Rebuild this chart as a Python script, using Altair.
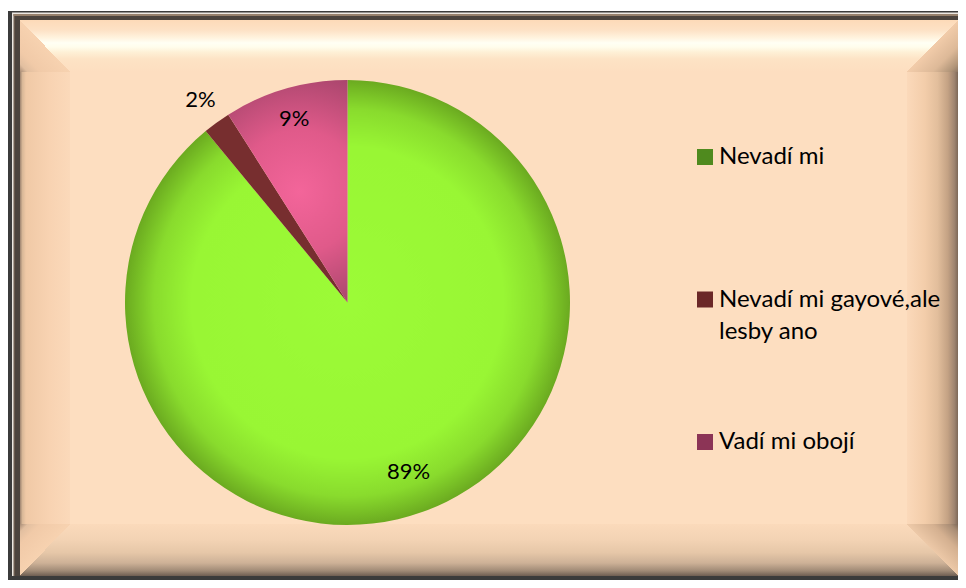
import altair as alt
import pandas as pd

# ---- data ----
categories = ["Nevadí mi", "Nevadí mi gayové,ale lesby ano", "Vadí mi obojí"]
values = [89, 2, 9]
pct_labels = ["89%", "2%", "9%"]
legend_lines = ["Nevadí mi", "Nevadí mi gayové,ale\nlesby ano", "Vadí mi obojí"]
order_idx = [0, 1, 2]
legend_colors = ["#4F8A1E", "#6B2828", "#8C3456"]

df = pd.DataFrame({"cat": categories, "value": values, "label": pct_labels,
                   "line": legend_lines, "idx": order_idx})
one = pd.DataFrame({"k": [0]})

W, H = 950, 572
CX, CY, R = 339.5, 294.5, 222.5
FONT = "Lato"
FACE = "#FDDEC0"
CLEAR = "rgba(253,222,192,0)"
RB = 899  # inner edge of right bevel


def lin(stops, x1=0, y1=0, x2=0, y2=1):
    return {"gradient": "linear", "x1": x1, "y1": y1, "x2": x2, "y2": y2,
            "stops": [{"offset": o, "color": c} for o, c in stops]}


def rad(stops, cx=0.5, cy=0.5, r=0.5):
    return {"gradient": "radial", "x1": cx, "y1": cy, "r1": 0, "x2": cx, "y2": cy, "r2": r,
            "stops": [{"offset": o, "color": c} for o, c in stops]}


def box(x1, x2, y1, y2, fill):
    return alt.Chart(one).mark_rect(fill=fill, strokeWidth=0).encode(
        x=alt.value(x1), x2=alt.value(x2), y=alt.value(y1), y2=alt.value(y2))


# ---- frame decoration ----
decos = [
    box(0, W, 3, H, "#3B3B3B"),
    box(4, W, 4.5, 568, "#EDE8E2"),
    box(5.5, W, 6, 568, "#6A5A4E"),
    box(5.5, W, 6, 8, "#96806C"),
    box(7, W, 8, 568, "#4C443E"),
    box(12, W, 12, 568, FACE),
    # top band
    box(12, W, 12, 64, lin([(0, "#FDDAB8"), (0.2, "#FDE2C6"), (0.34, "#FFF3DE"), (0.44, "#FFFFF4"),
                            (0.52, "#FFFDEC"), (0.62, "#FEF0D6"), (0.75, "#FDE3C5"), (1, FACE)])),
    # left band
    box(12, 62, 64, 516, lin([(0, "#9E8470"), (0.05, "#D9B898"), (0.12, "#F0C9A6"), (0.6, "#F8D3B2"),
                              (1, "#FBD9BA")], 0, 0, 1, 0)),
    # right band
    box(RB, W, 64, 516, lin([(0, "#FBD9BA"), (0.35, "#F3CDAA"), (0.6, "#E2BE9C"), (0.8, "#C4A284"),
                             (0.93, "#9E8470"), (1, "#7C6858")], 0, 0, 1, 0)),
    # bottom band
    box(12, W, 516, 568, lin([(0, "#FBDABB"), (0.3, "#F3D3B4"), (0.55, "#E6C7A8"), (0.75, "#CDB197"),
                              (0.9, "#A08A76"), (1, "#6E5E52")])),
    # corners (mitres)
    box(12, 62, 12, 64, lin([(0, "#A88C76"), (0.08, "#E2BFA0"), (0.2, "#F1CAA8"), (0.5, "#F7D2B0"),
                             (0.5, CLEAR), (1, CLEAR)], 0, 1, 1, 0)),
    box(RB, W, 12, 64, lin([(0, CLEAR), (0.5, CLEAR), (0.5, "#F2CCAA"), (0.75, "#DDB998"),
                            (0.92, "#B09478"), (1, "#8C7664")], 0, 0, 1, 1)),
    box(12, 62, 516, 568, lin([(0, "#A88C76"), (0.08, "#E2BFA0"), (0.2, "#F1CAA8"), (0.5, "#F7D2B0"),
                               (0.5, CLEAR), (1, CLEAR)], 0, 0, 1, 1)),
    box(RB, W, 516, 568, lin([(0, CLEAR), (0.5, CLEAR), (0.5, "#EDC9A8"), (0.75, "#D4B090"),
                              (0.92, "#A88C74"), (1, "#7C6858")], 0, 1, 1, 0)),
]

# ---- pie ----
green_grad = rad([(0, "#9CFB37"), (0.7, "#99F634"), (0.87, "#89DB2D"), (1, "#6BAA20")])
pink_grad = rad([(0, "#F3659A"), (0.5, "#E05A8A"), (1, "#A8456C")], 0.55, 0.5, 0.55)
brown_fill = "#772E2F"

fill_cond = (alt.when(alt.datum.cat == categories[0]).then(alt.value(green_grad))
             .when(alt.datum.cat == categories[1]).then(alt.value(brown_fill))
             .otherwise(alt.value(pink_grad)))

theta_scale = alt.Scale(domain=[0, 100], range=[0, 6.283185307179586])

arcs = alt.Chart(df).mark_arc(outerRadius=R, strokeWidth=0).encode(
    theta=alt.Theta("value:Q", stack=True, scale=theta_scale),
    order=alt.Order("idx:Q"),
    detail="cat:N",
    fill=fill_cond,
    x=alt.value(CX), y=alt.value(CY),
)

lbl_base = alt.Chart(df).transform_window(
    cum="sum(value)", sort=[alt.SortField("idx")], frame=[None, 0]
).transform_calculate(mid="datum.cum - datum.value / 2")


def pie_label(idx, radius):
    return lbl_base.transform_filter(alt.datum.idx == idx).mark_text(
        font=FONT, fontSize=22, color="#000000", radius=radius, align="center", baseline="middle"
    ).encode(theta=alt.Theta("mid:Q", stack=None, scale=theta_scale), text="label:N",
             x=alt.value(CX), y=alt.value(CY))


labels = [pie_label(0, 180), pie_label(1, 250), pie_label(2, 191)]

# ---- legend ----
leg_y = alt.Y("cat:N", scale=alt.Scale(domain=categories, range=[149, 434], padding=0), axis=None)
squares = alt.Chart(df).mark_square(size=256, opacity=1, filled=True).encode(
    x=alt.value(697), y=leg_y,
    color=alt.Color("cat:N", scale=alt.Scale(domain=categories, range=legend_colors), legend=None),
)
leg_text = alt.Chart(df).mark_text(
    align="left", baseline="middle", font=FONT, fontSize=24, lineBreak="\n", lineHeight=32,
    color="#000000"
).encode(x=alt.value(711), y=leg_y, text="line:N")

chart = alt.layer(*decos, arcs, *labels, squares, leg_text).properties(
    width=W, height=H, padding=0,
    autosize=alt.AutoSizeParams(type="fit", contains="padding"),
    background="white",
).configure_view(strokeWidth=0)

chart.save("out.html", embed_options={"renderer": "svg", "actions": False})
